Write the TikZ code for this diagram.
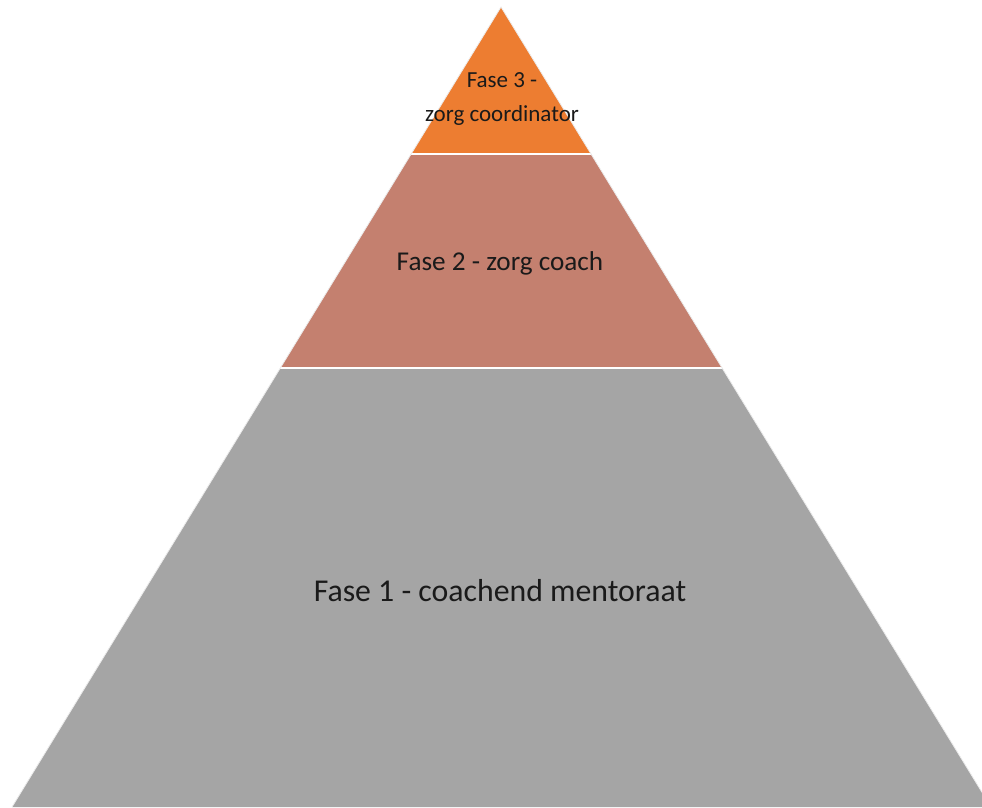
\documentclass[tikz,border=0pt]{standalone}
\usepackage{fontspec}
\setmainfont{Carlito}
\usetikzlibrary{calc}
\definecolor{orangeF}{HTML}{ED7D31}
\definecolor{salmonF}{HTML}{C4806F}
\definecolor{grayF}{HTML}{A5A5A5}
\definecolor{textF}{HTML}{1A1A1A}
\begin{document}
\begin{tikzpicture}[x=1pt,y=1pt,
  layer/.style={draw=white,line width=2pt,line join=miter},
  lbl/.style={text=textF,align=center,inner sep=0pt}]
\useasboundingbox (0,0) rectangle (982,807);
\clip (0,0) rectangle (982,807);
\coordinate (apex) at (501,800);
\coordinate (bl) at (12,0);
\coordinate (br) at (991,0);
\coordinate (l3) at ($(apex)!0.1838!(bl)$);
\coordinate (r3) at ($(apex)!0.1838!(br)$);
\coordinate (l2) at ($(apex)!0.4513!(bl)$);
\coordinate (r2) at ($(apex)!0.4513!(br)$);
\fill[grayF] (l2) -- (r2) -- (br) -- (bl) -- cycle;
\fill[salmonF] (l3) -- (r3) -- (r2) -- (l2) -- cycle;
\fill[orangeF] (apex) -- (r3) -- (l3) -- cycle;
\draw[white,line width=2pt] (l3) -- (r3);
\draw[white,line width=2pt] (l2) -- (r2);
\draw[white!85!gray,line width=0.8pt] (bl) -- (apex) -- (br);
\node[lbl,font=\fontsize{23}{34}\selectfont] (t3) at (502,707.5) {Fase 3 -\\zorg coordinator};
\node[lbl,font=\fontsize{27.2}{32}\selectfont] (t2) at (500,544) {Fase 2 - zorg coach};
\node[lbl,font=\fontsize{31.8}{38}\selectfont] (t1) at (500,216) {Fase 1 - coachend mentoraat};
\end{tikzpicture}
\end{document}
